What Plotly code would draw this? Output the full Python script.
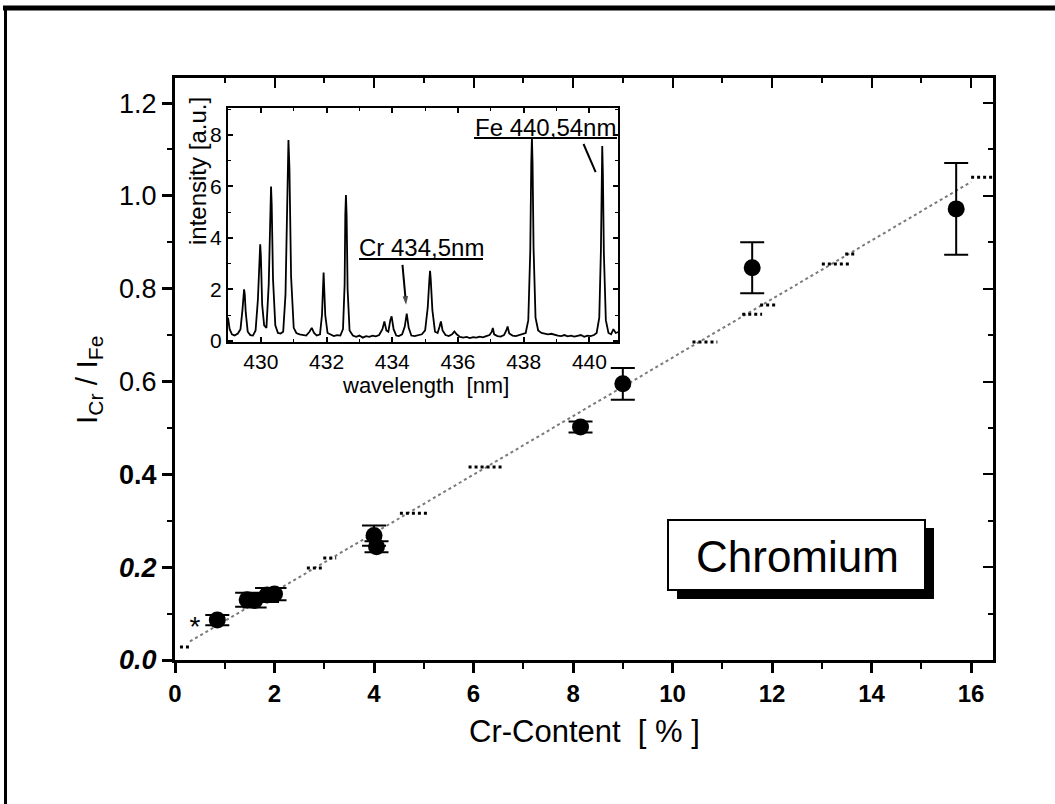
import plotly.graph_objects as go

# ---------------- data ----------------
# main plot: Cr content [%] vs intensity ratio I_Cr/I_Fe
cr_content = [0.85, 1.45, 1.6, 1.85, 2.0, 4.0, 4.05, 8.15, 9.0, 11.6, 15.7]
ratio = [0.086, 0.130, 0.128, 0.140, 0.142, 0.268, 0.244, 0.502, 0.595, 0.845, 0.972]
ratio_err = [0.011, 0.015, 0.015, 0.015, 0.013, 0.022, 0.012, 0.012, 0.034, 0.055, 0.099]

# calibration line (dotted) end points
fit_x = [0.3, 16.0]
fit_y = [0.040, 1.030]
# short flat dark segments along the calibration line
flat_x0 = [0.10, 2.65, 2.98, 4.52, 5.90, 10.40, 11.40, 11.76, 13.00, 13.47, 16.00]
flat_x1 = [0.28, 2.95, 3.24, 5.09, 6.60, 10.90, 11.80, 12.10, 13.57, 13.70, 16.44]
flat_y = [0.028, 0.198, 0.220, 0.316, 0.416, 0.685, 0.745, 0.765, 0.853, 0.875, 1.040]

# asterisk marker
star_x = [0.40]
star_y = [0.066]

# y tick labels (as printed)
y_tickvals = [0.0, 0.2, 0.4, 0.6, 0.8, 1.0, 1.2]
y_ticktext = ["<b><i>0.0</i></b>", "<b><i>0.2</i></b>", "<b>0.4</b>", "0.6", "0.8", "1.0", "1.2"]
x_tickvals = [0, 2, 4, 6, 8, 10, 12, 14, 16]

# inset: emission spectrum
wavelength = [
    429.00, 429.05, 429.12, 429.20, 429.30, 429.38, 429.44, 429.47, 429.49, 429.51, 429.54, 429.60,
    429.68, 429.76, 429.84, 429.91, 429.96, 429.98, 430.00, 430.04, 430.10, 430.17, 430.24, 430.29,
    430.31, 430.33, 430.37, 430.44, 430.52, 430.60, 430.68, 430.75, 430.81, 430.84, 430.87,
    430.92, 431.00, 431.08, 431.18, 431.28, 431.38, 431.48, 431.55, 431.62, 431.70, 431.80,
    431.86, 431.91, 431.96, 432.03, 432.12, 432.22, 432.32, 432.42, 432.50, 432.55, 432.57,
    432.59, 432.61, 432.64, 432.70, 432.80, 432.90, 433.00, 433.10, 433.20, 433.30, 433.40,
    433.50, 433.60, 433.70, 433.76, 433.82, 433.88, 433.94, 433.98, 434.04, 434.12, 434.20,
    434.30, 434.38, 434.44, 434.50, 434.58, 434.68, 434.78, 434.90, 435.00, 435.08, 435.13,
    435.15, 435.17, 435.22, 435.30, 435.38, 435.44, 435.48, 435.53, 435.62, 435.72, 435.82,
    435.89, 435.96, 436.06, 436.16, 436.26, 436.36, 436.46, 436.56, 436.66, 436.76, 436.86,
    436.96, 437.03, 437.06, 437.10, 437.20, 437.30, 437.40, 437.47, 437.51, 437.56, 437.66,
    437.76, 437.86, 437.96, 438.06, 438.14, 438.20, 438.23, 438.25, 438.27, 438.30, 438.36,
    438.44, 438.54, 438.64, 438.74, 438.84, 438.94, 439.04, 439.14, 439.24, 439.34, 439.44,
    439.54, 439.64, 439.74, 439.84, 439.94, 440.04, 440.14, 440.22, 440.30, 440.35, 440.37,
    440.39, 440.41, 440.44, 440.50, 440.58, 440.66, 440.73, 440.80, 440.90,
]
intensity = [
    0.90, 0.45, 0.25, 0.20, 0.28, 0.45, 1.20, 1.80, 2.00, 1.80, 1.10, 0.35,
    0.22, 0.20, 0.40, 1.60, 3.30, 3.75, 3.30, 1.40, 0.60, 0.50, 2.20, 5.30,
    6.00, 5.30, 2.40, 0.60, 0.30, 0.28, 0.35, 1.80, 6.80, 7.80, 6.70,
    2.50, 0.50, 0.30, 0.25, 0.22, 0.20, 0.35, 0.50, 0.30, 0.20, 0.25,
    1.00, 2.65, 1.00, 0.30, 0.25, 0.18, 0.22, 0.20, 0.45, 2.20, 4.90,
    5.67, 4.90, 2.00, 0.40, 0.20, 0.15, 0.20, 0.12, 0.18, 0.15, 0.20,
    0.17, 0.22, 0.45, 0.75, 0.40, 0.35, 0.80, 0.95, 0.45, 0.20, 0.18,
    0.25, 0.55, 1.05, 0.50, 0.20, 0.18, 0.20, 0.25, 0.40, 1.30, 2.40,
    2.72, 2.40, 1.20, 0.35, 0.30, 0.55, 0.75, 0.40, 0.22, 0.18, 0.25,
    0.36, 0.25, 0.15, 0.12, 0.15, 0.10, 0.14, 0.12, 0.16, 0.13, 0.18,
    0.22, 0.35, 0.50, 0.25, 0.18, 0.16, 0.22, 0.40, 0.55, 0.28, 0.20,
    0.18, 0.22, 0.25, 0.30, 0.80, 3.50, 6.90, 7.90, 6.90, 3.60, 0.90,
    0.40, 0.30, 0.28, 0.25, 0.27, 0.22, 0.20, 0.18, 0.22, 0.17, 0.20,
    0.16, 0.18, 0.22, 0.15, 0.20, 0.18, 0.22, 0.30, 0.90, 3.50, 6.60,
    7.57, 6.50, 3.40, 0.80, 0.30, 0.25, 0.45, 0.30, 0.35,
]
inset_xticks = [430, 432, 434, 436, 438, 440]
inset_yticks = [0, 2, 4, 6, 8]

# Cr arrow (tail -> head) and Fe pointer line, in inset data units
cr_arrow_x = [434.31, 434.42]
cr_arrow_y = [2.95, 1.40]
fe_line_x = [439.82, 440.19]
fe_line_y = [7.65, 6.56]

# ---------------- layout geometry (pixels) ----------------
W, H = 1055, 804
ML, MR, MT, MB = 175, 62, 78, 144
PW = W - ML - MR
PH = H - MT - MB


def px(x):
    return (x - ML) / PW


def py(y):
    return (MT + PH - y) / PH


FONT = "Liberation Sans, Arial, Helvetica, sans-serif"

fig = go.Figure()

# calibration line
fig.add_trace(go.Scatter(x=fit_x, y=fit_y, mode="lines",
                         line=dict(color="#7a7a7a", width=2, dash="dot"),
                         showlegend=False, hoverinfo="skip"))
# dark flat segments
fx, fy = [], []
for a, b, c in zip(flat_x0, flat_x1, flat_y):
    fx += [a, b, None]
    fy += [c, c, None]
fig.add_trace(go.Scatter(x=fx, y=fy, mode="lines",
                         line=dict(color="black", width=3, dash="dot"),
                         showlegend=False, hoverinfo="skip"))
# measured points
fig.add_trace(go.Scatter(x=cr_content, y=ratio, mode="markers",
                         marker=dict(color="black", size=17, symbol="circle"),
                         error_y=dict(type="data", array=ratio_err, color="black",
                                      thickness=2, width=12),
                         showlegend=False))
# asterisk
fig.add_trace(go.Scatter(x=star_x, y=star_y, mode="text", text=["*"],
                         textfont=dict(size=28, color="black", family=FONT),
                         showlegend=False))

# mirrored (inside ticks) axes for top / right
fig.add_trace(go.Scatter(x=[None], y=[None], xaxis="x3", yaxis="y3",
                         showlegend=False, hoverinfo="skip"))

# inset spectrum
fig.add_trace(go.Scatter(x=wavelength, y=intensity, mode="lines",
                         line=dict(color="black", width=1.8),
                         xaxis="x2", yaxis="y2", showlegend=False))
# pointers in the inset
fig.add_trace(go.Scatter(x=fe_line_x, y=fe_line_y, mode="lines",
                         line=dict(color="black", width=2),
                         xaxis="x2", yaxis="y2", showlegend=False, hoverinfo="skip"))
fig.add_trace(go.Scatter(x=cr_arrow_x, y=cr_arrow_y, mode="lines+markers",
                         line=dict(color="black", width=2),
                         marker=dict(symbol=["line-ns", "arrow"], size=[0, 9],
                                     angleref="previous", color="black",
                                     line=dict(width=0)),
                         xaxis="x2", yaxis="y2", showlegend=False, hoverinfo="skip"))

ax_common = dict(showgrid=False, zeroline=False, showline=True,
                 linecolor="black", color="black")

fig.update_layout(
    width=W, height=H,
    margin=dict(l=ML, r=MR, t=MT, b=MB),
    paper_bgcolor="white", plot_bgcolor="white",
    font=dict(family=FONT, color="black"),
    xaxis=dict(**ax_common, range=[0, 16.44], linewidth=3, mirror=True,
               tickvals=x_tickvals, ticks="outside", ticklen=10, tickwidth=3,
               tickfont=dict(size=24, family=FONT, weight="bold"),
               minor=dict(dtick=1, tick0=0, ticks="outside", ticklen=6, tickwidth=2,
                          tickcolor="black"),
               domain=[0, 1], anchor="y"),
    yaxis=dict(**ax_common, range=[0, 1.254], linewidth=3, mirror=True,
               tickvals=y_tickvals, ticktext=y_ticktext, ticks="outside",
               ticklen=10, tickwidth=3, tickfont=dict(size=27, family=FONT),
               minor=dict(dtick=0.1, tick0=0, ticks="outside", ticklen=5, tickwidth=2,
                          tickcolor="black"),
               domain=[0, 1], anchor="x"),
    xaxis3=dict(showgrid=False, zeroline=False, showline=False, overlaying="x",
                side="top", anchor="y3", range=[0, 16.44], tickvals=x_tickvals,
                showticklabels=False, ticks="inside", ticklen=10, tickwidth=2,
                tickcolor="black",
                minor=dict(dtick=1, tick0=0, ticks="inside", ticklen=5, tickwidth=2,
                           tickcolor="black")),
    yaxis3=dict(showgrid=False, zeroline=False, showline=False, overlaying="y",
                side="right", anchor="x3", range=[0, 1.254], tickvals=y_tickvals,
                showticklabels=False, ticks="inside", ticklen=10, tickwidth=2,
                tickcolor="black",
                minor=dict(dtick=0.1, tick0=0, ticks="inside", ticklen=5, tickwidth=2,
                           tickcolor="black")),
    xaxis2=dict(**ax_common, domain=[px(228), px(618)], anchor="y2",
                range=[429.0, 440.87], linewidth=2, mirror="allticks",
                tickvals=inset_xticks, ticks="inside", ticklen=5, tickwidth=1.5,
                tickfont=dict(size=21, family=FONT),
                minor=dict(dtick=1, ticks="inside", ticklen=3, tickwidth=1,
                           tickcolor="black")),
    yaxis2=dict(**ax_common, domain=[py(342), py(108)], anchor="x2",
                range=[-0.05, 9.05], linewidth=2, mirror="allticks",
                tickvals=inset_yticks, ticks="inside", ticklen=5, tickwidth=1.5,
                tickfont=dict(size=21, family=FONT),
                minor=dict(dtick=1, ticks="inside", ticklen=3, tickwidth=1,
                           tickcolor="black")),
)

annotations = [
    # axis titles
    dict(text="Cr-Content  [ % ]", x=px(584), y=py(731), xref="paper", yref="paper",
         showarrow=False, font=dict(size=31, family=FONT), xanchor="center",
         yanchor="middle"),
    dict(text="I<sub>Cr</sub> / I<sub>Fe</sub>", x=px(89), y=py(380), xref="paper",
         yref="paper", showarrow=False, textangle=-90, font=dict(size=30, family=FONT),
         xanchor="center", yanchor="middle"),
    # inset titles
    dict(text="intensity [a.u.]", x=px(197), y=py(171), xref="paper", yref="paper",
         showarrow=False, textangle=-90, font=dict(size=24, family=FONT),
         xanchor="center", yanchor="middle"),
    dict(text="wavelength  [nm]", x=px(425), y=py(385), xref="paper", yref="paper",
         showarrow=False, font=dict(size=22, family=FONT),
         xanchor="center", yanchor="middle"),
    # labels in the inset
    dict(text="Fe 440,54nm", x=px(545), y=py(127), xref="paper", yref="paper",
         showarrow=False, font=dict(size=24, family=FONT), xanchor="center",
         yanchor="middle"),
    dict(text="Cr 434,5nm", x=px(421), y=py(248), xref="paper", yref="paper",
         showarrow=False, font=dict(size=24, family=FONT), xanchor="center",
         yanchor="middle"),
    # Chromium box text
    dict(text="Chromium", x=px(797), y=py(556), xref="paper", yref="paper",
         showarrow=False, font=dict(size=44, family=FONT), xanchor="center",
         yanchor="middle"),
]
fig.update_layout(annotations=annotations)

shapes = [
    # underlines of the inset labels
    dict(type="line", xref="paper", yref="paper", x0=px(474), x1=px(617),
         y0=py(138), y1=py(138), line=dict(color="black", width=2), layer="above"),
    dict(type="line", xref="paper", yref="paper", x0=px(359), x1=px(483),
         y0=py(259), y1=py(259), line=dict(color="black", width=2), layer="above"),
    # shadow and box for "Chromium"
    dict(type="rect", xref="paper", yref="paper", x0=px(677), x1=px(934),
         y0=py(599), y1=py(528), fillcolor="black", line=dict(width=0), layer="above"),
    dict(type="rect", xref="paper", yref="paper", x0=px(668), x1=px(925),
         y0=py(590), y1=py(520), fillcolor="white", line=dict(color="black", width=2),
         layer="above"),
    # outer frame lines of the figure
    dict(type="line", xref="paper", yref="paper", x0=px(3), x1=px(1055),
         y0=py(8), y1=py(8), line=dict(color="black", width=5)),
    dict(type="line", xref="paper", yref="paper", x0=px(5.5), x1=px(5.5),
         y0=py(6), y1=py(804), line=dict(color="black", width=3)),
]
fig.update_layout(shapes=shapes)

fig.write_html("out.html", config={"displayModeBar": False},
               post_script="document.body.style.margin='0px';")
